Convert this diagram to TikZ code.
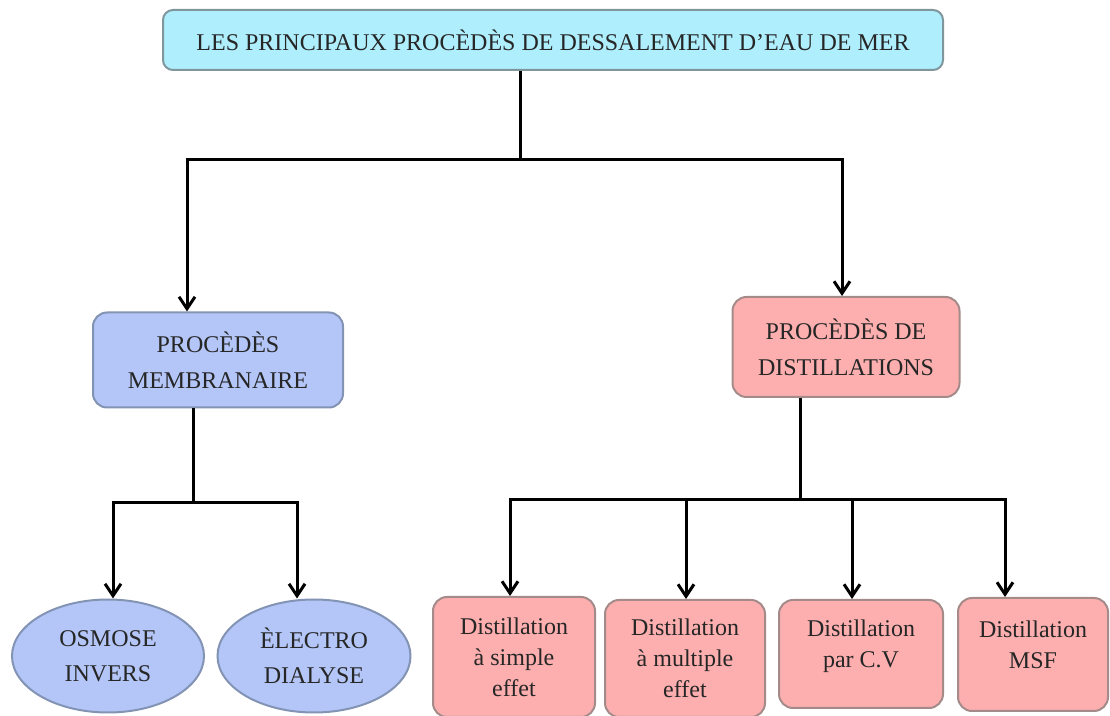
\documentclass[tikz,border=0pt]{standalone}
\usepackage{fontspec}
\setmainfont{Liberation Serif}
\usepackage{tikz}
\usetikzlibrary{arrows.meta,positioning,shapes.geometric}
\definecolor{skyfill}{HTML}{AFEEFD}
\definecolor{skyline}{HTML}{7F979C}
\definecolor{bluefill}{HTML}{B3C6F7}
\definecolor{blueline}{HTML}{8393B3}
\definecolor{pinkfill}{HTML}{FDAFAF}
\definecolor{pinkline}{HTML}{A58A8A}
\definecolor{ink}{HTML}{262626}

\begin{document}
\begin{tikzpicture}[x=0.5pt,y=-0.5pt,>={Straight Barb[length=6pt,width=8pt]},
box/.style={draw,line width=1pt,rounded corners=7pt,align=center,text=ink,inner sep=0pt,
  font=\fontsize{12}{18}\selectfont},
titlebox/.style={box,draw=skyline,fill=skyfill,rounded corners=5pt,minimum width=390pt,minimum height=30pt},
membbox/.style={box,draw=blueline,fill=bluefill},
distbox/.style={box,draw=pinkline,fill=pinkfill},
leaf/.style={distbox,font=\fontsize{12}{15.5}\selectfont},
oval/.style={ellipse,draw=blueline,fill=bluefill,line width=1pt,align=center,text=ink,inner sep=0pt,
  font=\fontsize{12}{17.5}\selectfont},
link/.style={line width=1.5pt,black},
arr/.style={link,->}]
\useasboundingbox (0,0) rectangle (1110,716);
% boxes
\node[titlebox] (top) at (553,40) {LES PRINCIPAUX PROCÈDÈS DE DESSALEMENT D’EAU DE MER};
\node[membbox,minimum width=125pt,minimum height=47.5pt] (memb) at (218,360) {PROCÈDÈS\\MEMBRANAIRE};
\node[distbox,minimum width=113.5pt,minimum height=50pt] (dist) at (846,347) {PROCÈDÈS DE\\DISTILLATIONS};
\node[oval,minimum width=96pt,minimum height=56.5pt] (osm) at (108,656) {OSMOSE\\INVERS};
\node[oval,minimum width=96.5pt,minimum height=56.5pt] (elec) at (314,656) {ÈLECTRO\\DIALYSE};
\node[leaf,minimum width=81pt,minimum height=60pt] (ds1) at (514,657) {Distillation\\à simple\\effet};
\node[leaf,minimum width=80pt,minimum height=58.5pt] (ds2) at (685,658.5) {Distillation\\à multiple\\effet};
\node[leaf,minimum width=82pt,minimum height=54pt] (ds3) at (861,654) {Distillation\\par C.V\\[-5.5pt]\mbox{}};
\node[leaf,minimum width=75pt,minimum height=56.5pt] (ds4) at (1033,654.5) {Distillation\\MSF\\[-5.5pt]\mbox{}};
% junctions
\coordinate (j0) at (520,160);
\coordinate (jl) at (187,160);
\coordinate (jr) at (842,160);
\coordinate (jm) at (193,503);
\coordinate (jm1) at (113,503);
\coordinate (jm2) at (297,503);
\coordinate (jd) at (800,500);
\coordinate (jd1) at (510,500);
\coordinate (jd2) at (686,500);
\coordinate (jd3) at (852,500);
\coordinate (jd4) at (1005,500);
% connectors
\draw[link] (top.south -| j0) -- (j0);
\draw[arr] (j0) -| (memb.north -| jl);
\draw[arr] (j0) -| (dist.north -| jr);
\draw[link] (memb.south -| jm) -- (jm);
\draw[arr] (jm) -| (osm.north -| jm1);
\draw[arr] (jm) -| (elec.north -| jm2);
\draw[link] (dist.south -| jd) -- (jd);
\draw[arr] (jd) -| (ds1.north -| jd1);
\draw[arr] (jd) -| (ds2.north -| jd2);
\draw[arr] (jd) -| (ds3.north -| jd3);
\draw[arr] (jd) -| (ds4.north -| jd4);
\end{tikzpicture}
\end{document}
